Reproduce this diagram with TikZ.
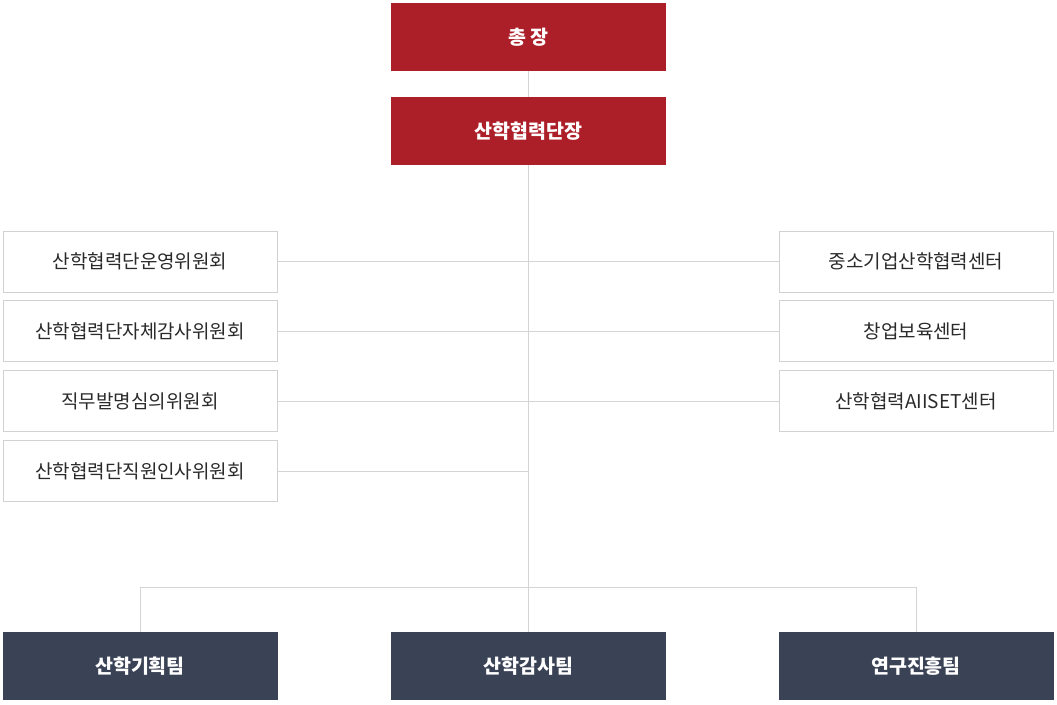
\documentclass[tikz,border=0pt]{standalone}
\usepackage{fontspec}
\setmainfont{Noto Sans CJK KR}
\definecolor{topred}{HTML}{AD1F28}
\definecolor{navy}{HTML}{3A4256}
\definecolor{lineg}{HTML}{D4D4D4}
\definecolor{boxb}{HTML}{D2D2D2}
\definecolor{txt}{HTML}{2A2A2A}
\begin{document}
\begin{tikzpicture}[x=1pt,y=-1pt,
  redbox/.style={fill=topred,draw=none,minimum width=275pt,minimum height=68pt,inner sep=0pt,text=white,font=\fontsize{19.5}{22}\selectfont\bfseries},
  whitebox/.style={fill=white,draw=boxb,line width=1pt,minimum width=274pt,minimum height=61pt,inner sep=0pt,text=txt,font=\fontsize{19}{22}\selectfont},
  navybox/.style={fill=navy,draw=none,minimum width=275pt,minimum height=68pt,inner sep=0pt,text=white,font=\fontsize{19.5}{22}\selectfont\bfseries},
  conn/.style={draw=lineg,line width=1pt}]
\useasboundingbox (0,0) rectangle (1057,704);
% nodes
\node[redbox] (pres) at (528.5,37) {총 장};
\node[redbox] (dir) at (528.5,131) {산학협력단장};
\node[whitebox] (l1) at (140,261.5) {산학협력단운영위원회};
\node[whitebox] (l2) at (140,331) {산학협력단자체감사위원회};
\node[whitebox] (l3) at (140,401) {직무발명심의위원회};
\node[whitebox] (l4) at (140,471) {산학협력단직원인사위원회};
\node[whitebox] (r1) at (916,261.5) {중소기업산학협력센터};
\node[whitebox] (r2) at (916,331) {창업보육센터};
\node[whitebox] (r3) at (916,401) {산학협력AIISET센터};
\node[navybox] (b1) at (140,666) {산학기획팀};
\node[navybox] (b2) at (528.5,666) {산학감사팀};
\node[navybox] (b3) at (916,666) {연구진흥팀};
\coordinate (j4) at (528,471);
\coordinate (jb) at (528,587);
\coordinate (jl) at (140,587);
\coordinate (jr) at (916,587);
% connectors
\draw[conn] (528,71) -- (528,97);
\draw[conn] (528,165) -- (jb);
\draw[conn] (l1.east) -- (r1.west);
\draw[conn] (l2.east) -- (r2.west);
\draw[conn] (l3.east) -- (r3.west);
\draw[conn] (l4.east) -- (j4);
\draw[conn] (jl) -- (jr);
\draw[conn] (jl) -- (b1.north);
\draw[conn] (jb) -- (528,632);
\draw[conn] (jr) -- (b3.north);
\end{tikzpicture}
\end{document}
